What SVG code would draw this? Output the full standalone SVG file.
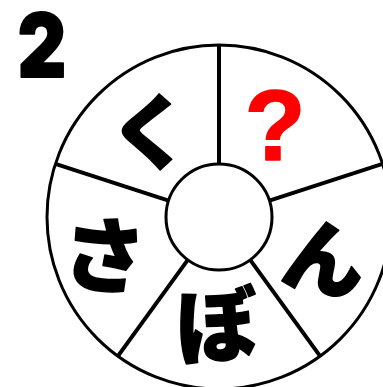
<svg xmlns="http://www.w3.org/2000/svg" width="383" height="387" viewBox="0 0 383 387">
<style>
.kana{font-family:"Noto Sans CJK JP","Noto Sans CJK SC",sans-serif;font-weight:900;font-size:82px;fill:#000;stroke:#000;stroke-width:1.5;stroke-linejoin:round;text-anchor:middle}
.line{stroke:#000;stroke-width:4;fill:none;stroke-linecap:butt}
</style>
<rect width="383" height="387" fill="#fff"/>
<g id="number">
<text x="0" y="0" transform="translate(42 77) scale(0.85 1)" font-family="Inter, 'Liberation Sans', sans-serif" font-weight="900" font-size="88" text-anchor="middle" fill="#000" stroke="#000" stroke-width="2" stroke-linejoin="round">2</text>
</g>
<g id="wheel">
<circle cx="219" cy="217" r="172" fill="#fff" stroke="#000" stroke-width="3"/>
</g>
<g id="connectors">
<line class="line" x1="219" y1="164" x2="219" y2="45"/>
<line class="line" x1="269.4" y1="200.6" x2="382.6" y2="163.9"/>
<line class="line" x1="250.2" y1="259.9" x2="320.1" y2="356.2"/>
<line class="line" x1="187.8" y1="259.9" x2="117.9" y2="356.2"/>
<line class="line" x1="168.6" y1="200.6" x2="55.4" y2="163.9"/>
</g>
<g id="hub">
<circle cx="219" cy="217" r="53" fill="#fff" stroke="#000" stroke-width="3"/>
</g>
<g id="ku"><text class="kana" x="0" y="0" transform="translate(150 131) translate(0 31)">く</text></g>
<g id="question"><text x="275" y="160" font-family="'Liberation Sans', Arial, sans-serif" font-weight="bold" font-size="100" fill="#ff0000" stroke="#ff0000" stroke-width="1.5" stroke-linejoin="round" text-anchor="middle">?</text></g>
<g id="n"><text class="kana" x="0" y="0" transform="translate(325 258) rotate(12) translate(0 31)">ん</text></g>
<g id="bo"><text class="kana" x="0" y="0" transform="translate(217 325) rotate(-4) translate(0 31)">ぼ</text></g>
<g id="sa"><text class="kana" x="0" y="0" transform="translate(104 255) rotate(5) translate(0 31)">さ</text></g>
</svg>
